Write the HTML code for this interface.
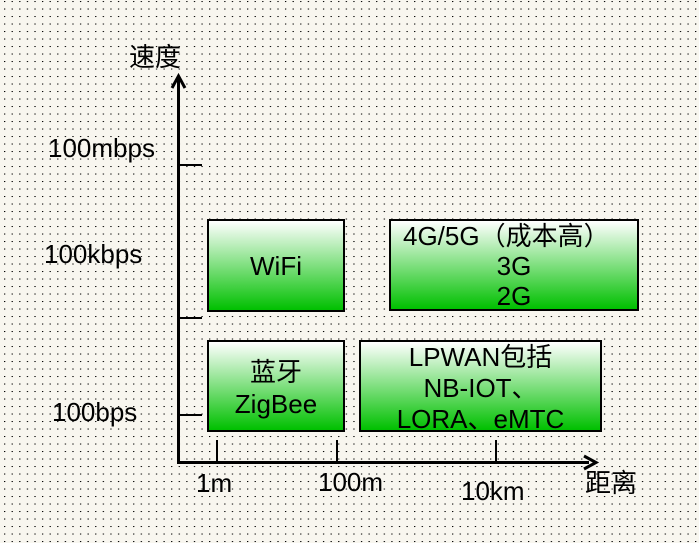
<!DOCTYPE html>
<html><head><meta charset="utf-8"><style>
html,body{margin:0;padding:0}
body{width:699px;height:543px;position:relative;overflow:hidden;background-color:#f8f6ef;
background-image:radial-gradient(circle at 0.5px 0.5px,#000 0.7px,transparent 0.8px);
background-size:7.6px 7.5px;background-position:4px 1px;
font-family:"Liberation Sans","Noto Sans CJK SC",sans-serif;color:#000}
.t{position:absolute;font-size:26px;line-height:28px;white-space:nowrap}
.b{position:absolute;box-sizing:border-box;border:2px solid #000;background:linear-gradient(#fff,#00c000);text-align:center;font-size:26px;line-height:29px;white-space:nowrap}
.l{position:absolute;background:#000}
</style></head><body>
<div class="l" style="left:177px;top:78px;width:3px;height:385px"></div>
<div class="l" style="left:177px;top:461px;width:412px;height:3px"></div>
<svg style="position:absolute;left:0;top:0" width="699" height="543">
<polyline points="172,88 178.5,76 185,88" fill="none" stroke="#000" stroke-width="3"/>
<polyline points="584,456 596,462.5 584,469" fill="none" stroke="#000" stroke-width="3"/>
</svg>
<div class="l" style="left:178px;top:164px;width:24px;height:2px"></div>
<div class="l" style="left:178px;top:317px;width:24px;height:2px"></div>
<div class="l" style="left:178px;top:414px;width:24px;height:2px"></div>
<div class="l" style="left:216px;top:440px;width:2px;height:22px"></div>
<div class="l" style="left:336px;top:440px;width:2px;height:22px"></div>
<div class="l" style="left:495px;top:440px;width:2px;height:22px"></div>
<div class="t" style="left:129px;top:43px">速度</div>
<div class="t" style="left:48px;top:134px">100mbps</div>
<div class="t" style="left:44px;top:240px">100kbps</div>
<div class="t" style="left:52px;top:398px">100bps</div>
<div class="t" style="left:196px;top:469px">1m</div>
<div class="t" style="left:318px;top:468px">100m</div>
<div class="t" style="left:461px;top:477px">10km</div>
<div class="t" style="left:585px;top:469px">距离</div>
<div class="b" style="left:207px;top:219px;width:138px;height:93px;padding-top:31px">WiFi</div>
<div class="b" style="left:389px;top:219px;width:250px;height:92px;line-height:30px;padding-top:0"><div style="text-align:left;padding-left:12px">4G/5G（成本高）</div><div>3G</div><div>2G</div></div>
<div class="b" style="left:207px;top:340px;width:138px;height:92px;padding-top:14px;line-height:32px">蓝牙<br>ZigBee</div>
<div class="b" style="left:359px;top:340px;width:243px;height:92px;padding-top:0;line-height:31px">LPWAN包括<br>NB-IOT、<br>LORA、eMTC</div>
</body></html>
